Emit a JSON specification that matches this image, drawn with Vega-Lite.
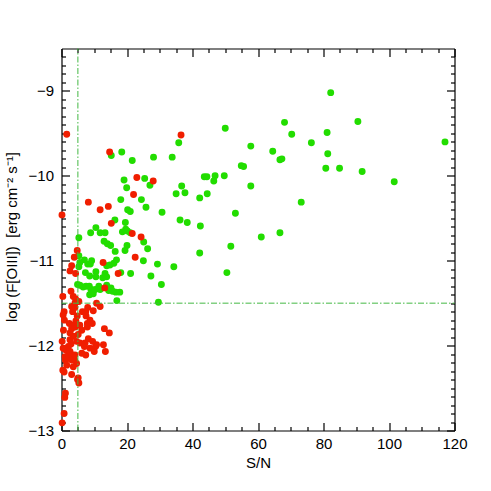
{
  "$schema": "https://vega.github.io/schema/vega-lite/v6.json",
  "width": 393,
  "height": 382,
  "autosize": "none",
  "padding": {"left": 61.5, "top": 48.5, "right": 36.5, "bottom": 60.5},
  "background": "white",
  "config": {
    "view": {"stroke": null},
    "font": "Liberation Sans",
    "axis": {
      "grid": false,
      "domainColor": "black",
      "domainWidth": 1.2,
      "tickColor": "black",
      "tickWidth": 1.2,
      "labelFont": "Liberation Sans",
      "labelFontSize": 15,
      "labelColor": "black",
      "titleFont": "Liberation Sans",
      "titleFontSize": 15,
      "titleFontWeight": "normal",
      "titleColor": "black"
    }
  },
  "datasets": {
    "green": [
      {"sn": 82.2, "f": -9.02}, {"sn": 90.5, "f": -9.36}, {"sn": 70.3, "f": -9.51}, {"sn": 81.1, "f": -9.49},
      {"sn": 76.3, "f": -9.61}, {"sn": 117.1, "f": -9.6}, {"sn": 81.3, "f": -9.74}, {"sn": 80.7, "f": -9.91},
      {"sn": 84.9, "f": -9.91}, {"sn": 91.8, "f": -9.95}, {"sn": 101.6, "f": -10.07}, {"sn": 73.2, "f": -10.31},
      {"sn": 35.8, "f": -9.61}, {"sn": 50.0, "f": -9.44}, {"sn": 68.1, "f": -9.37}, {"sn": 28.1, "f": -9.78},
      {"sn": 33.8, "f": -9.78}, {"sn": 57.8, "f": -9.65}, {"sn": 64.5, "f": -9.71}, {"sn": 66.7, "f": -9.81},
      {"sn": 67.3, "f": -9.8}, {"sn": 54.9, "f": -9.88}, {"sn": 55.6, "f": -9.89}, {"sn": 25.4, "f": -10.03},
      {"sn": 27.0, "f": -10.11}, {"sn": 43.6, "f": -10.01}, {"sn": 44.4, "f": -10.01}, {"sn": 46.9, "f": -10.0},
      {"sn": 46.5, "f": -10.06}, {"sn": 49.7, "f": -10.0}, {"sn": 57.8, "f": -10.12}, {"sn": 36.7, "f": -10.12},
      {"sn": 35.0, "f": -10.21}, {"sn": 37.7, "f": -10.2}, {"sn": 24.4, "f": -10.28}, {"sn": 42.2, "f": -10.26},
      {"sn": 44.5, "f": -10.21}, {"sn": 25.8, "f": -10.37}, {"sn": 30.7, "f": -10.43}, {"sn": 53.1, "f": -10.44},
      {"sn": 36.2, "f": -10.52}, {"sn": 38.4, "f": -10.55}, {"sn": 42.4, "f": -10.59}, {"sn": 25.1, "f": -10.78},
      {"sn": 26.3, "f": -10.86}, {"sn": 61.0, "f": -10.72}, {"sn": 66.7, "f": -10.67}, {"sn": 51.7, "f": -10.83},
      {"sn": 42.2, "f": -10.91}, {"sn": 25.0, "f": -11.0}, {"sn": 29.3, "f": -11.04}, {"sn": 34.3, "f": -11.07},
      {"sn": 50.5, "f": -11.14}, {"sn": 27.3, "f": -11.18}, {"sn": 30.5, "f": -11.28}, {"sn": 29.6, "f": -11.49},
      {"sn": 15.2, "f": -9.76}, {"sn": 18.4, "f": -9.72}, {"sn": 21.6, "f": -9.82}, {"sn": 19.1, "f": -10.05},
      {"sn": 19.9, "f": -10.14}, {"sn": 18.1, "f": -10.28}, {"sn": 20.2, "f": -10.4}, {"sn": 21.0, "f": -10.42},
      {"sn": 16.3, "f": -10.52}, {"sn": 19.5, "f": -10.55}, {"sn": 10.5, "f": -10.61}, {"sn": 8.9, "f": -10.67},
      {"sn": 11.8, "f": -10.67}, {"sn": 13.3, "f": -10.67}, {"sn": 19.6, "f": -10.63}, {"sn": 20.1, "f": -10.65},
      {"sn": 18.6, "f": -10.66}, {"sn": 21.0, "f": -10.67}, {"sn": 13.0, "f": -10.77}, {"sn": 14.0, "f": -10.8},
      {"sn": 15.0, "f": -10.82}, {"sn": 20.0, "f": -10.82}, {"sn": 16.4, "f": -10.89}, {"sn": 19.4, "f": -10.88},
      {"sn": 5.3, "f": -10.73}, {"sn": 5.3, "f": -10.94}, {"sn": 16.8, "f": -10.99}, {"sn": 16.0, "f": -11.03},
      {"sn": 14.8, "f": -11.05}, {"sn": 13.8, "f": -11.06}, {"sn": 7.0, "f": -10.99}, {"sn": 8.0, "f": -11.04},
      {"sn": 9.2, "f": -11.0}, {"sn": 8.8, "f": -11.04}, {"sn": 5.6, "f": -11.02}, {"sn": 7.3, "f": -11.14},
      {"sn": 8.6, "f": -11.18}, {"sn": 10.5, "f": -11.13}, {"sn": 10.5, "f": -11.19}, {"sn": 13.3, "f": -11.15},
      {"sn": 13.8, "f": -11.19}, {"sn": 12.6, "f": -11.2}, {"sn": 18.1, "f": -11.14}, {"sn": 21.1, "f": -11.15},
      {"sn": 5.3, "f": -11.07}, {"sn": 4.9, "f": -11.28}, {"sn": 5.6, "f": -11.29}, {"sn": 6.6, "f": -11.31},
      {"sn": 7.5, "f": -11.3}, {"sn": 8.5, "f": -11.3}, {"sn": 9.0, "f": -11.34}, {"sn": 8.6, "f": -11.4},
      {"sn": 9.7, "f": -11.39}, {"sn": 10.3, "f": -11.34}, {"sn": 11.4, "f": -11.3}, {"sn": 11.8, "f": -11.34},
      {"sn": 13.8, "f": -11.29}, {"sn": 14.4, "f": -11.35}, {"sn": 15.1, "f": -11.32}, {"sn": 15.6, "f": -11.36},
      {"sn": 16.6, "f": -11.37}, {"sn": 17.8, "f": -11.37}, {"sn": 16.9, "f": -11.47}
    ],
    "red": [
      {"sn": 1.6, "f": -9.51}, {"sn": 14.7, "f": -9.72}, {"sn": 36.5, "f": -9.52}, {"sn": 23.0, "f": -10.02},
      {"sn": 28.0, "f": -10.06}, {"sn": 22.0, "f": -10.22}, {"sn": 8.2, "f": -10.31}, {"sn": 11.8, "f": -10.4},
      {"sn": 14.3, "f": -10.36}, {"sn": 0.15, "f": -10.46}, {"sn": 15.2, "f": -10.56}, {"sn": 21.6, "f": -10.68},
      {"sn": 24.3, "f": -10.72}, {"sn": 4.8, "f": -10.88}, {"sn": 3.9, "f": -10.96}, {"sn": 22.5, "f": -10.96},
      {"sn": 12.7, "f": -11.02}, {"sn": 3.1, "f": -11.06}, {"sn": 4.3, "f": -11.15}, {"sn": 17.3, "f": -11.15},
      {"sn": 13.2, "f": -11.32},
      {"sn": 0.4, "f": -11.42}, {"sn": 2.9, "f": -11.36}, {"sn": 3.6, "f": -11.42}, {"sn": 4.3, "f": -11.45},
      {"sn": 5.3, "f": -11.48}, {"sn": 0.8, "f": -11.6}, {"sn": 0.9, "f": -11.7}, {"sn": 4.1, "f": -11.55},
      {"sn": 3.4, "f": -11.6}, {"sn": 4.8, "f": -11.65}, {"sn": 4.4, "f": -11.71}, {"sn": 6.4, "f": -11.6},
      {"sn": 7.5, "f": -11.65}, {"sn": 8.0, "f": -11.55}, {"sn": 9.7, "f": -11.59}, {"sn": 10.7, "f": -11.5},
      {"sn": 11.8, "f": -11.54}, {"sn": 7.9, "f": -11.74}, {"sn": 7.9, "f": -11.78}, {"sn": 8.7, "f": -11.7},
      {"sn": 9.4, "f": -11.74}, {"sn": 2.4, "f": -11.74}, {"sn": 3.4, "f": -11.76}, {"sn": 4.2, "f": -11.78},
      {"sn": 3.1, "f": -11.8}, {"sn": 5.6, "f": -11.76}, {"sn": 6.2, "f": -11.82}, {"sn": 13.1, "f": -11.8},
      {"sn": 14.6, "f": -11.85}, {"sn": 0.6, "f": -11.82}, {"sn": 0.2, "f": -11.95}, {"sn": 2.6, "f": -11.93},
      {"sn": 2.9, "f": -11.98}, {"sn": 2.1, "f": -12.01}, {"sn": 3.6, "f": -11.89}, {"sn": 4.6, "f": -11.95},
      {"sn": 5.6, "f": -11.97}, {"sn": 7.2, "f": -11.97}, {"sn": 8.2, "f": -11.92}, {"sn": 9.5, "f": -11.95},
      {"sn": 10.7, "f": -11.99}, {"sn": 8.7, "f": -12.03}, {"sn": 12.8, "f": -11.99}, {"sn": 13.4, "f": -12.07},
      {"sn": 7.4, "f": -12.11}, {"sn": 1.2, "f": -12.05}, {"sn": 2.1, "f": -12.11}, {"sn": 1.2, "f": -12.17},
      {"sn": 2.6, "f": -12.07}, {"sn": 3.3, "f": -12.11}, {"sn": 4.0, "f": -12.17}, {"sn": 4.6, "f": -12.21},
      {"sn": 3.6, "f": -12.25}, {"sn": 1.6, "f": -12.23}, {"sn": 0.4, "f": -12.29}, {"sn": 0.8, "f": -12.31},
      {"sn": 3.1, "f": -12.34}, {"sn": 4.9, "f": -12.4}, {"sn": 5.3, "f": -12.44}, {"sn": 1.2, "f": -12.56},
      {"sn": 1.0, "f": -12.61}, {"sn": 0.8, "f": -12.8}, {"sn": 0.2, "f": -12.91},
      {"sn": 0.5, "f": -11.64}, {"sn": 3.1, "f": -11.54}, {"sn": 4.1, "f": -11.5}, {"sn": 7.4, "f": -11.6},
      {"sn": 2.6, "f": -11.85}, {"sn": 5.1, "f": -11.87}, {"sn": 7.0, "f": -12.01}, {"sn": 10.4, "f": -12.01},
      {"sn": 10.0, "f": -12.07}, {"sn": 6.2, "f": -12.09}, {"sn": 0.5, "f": -12.03}, {"sn": 1.1, "f": -12.13},
      {"sn": 2.1, "f": -12.15}, {"sn": 3.1, "f": -12.17}, {"sn": 4.1, "f": -12.11}, {"sn": 5.1, "f": -12.38},
      {"sn": 2.6, "f": -11.12}
    ],
    "vline": [{"x": 5, "y1": -13, "y2": -8.5}],
    "hline": [{"y": -11.5, "x1": 0, "x2": 120}]
  },
  "layer": [
    {
      "data": {"name": "green"},
      "mark": {"type": "circle", "size": 48, "opacity": 1, "color": "#22dd00"},
      "encoding": {
        "x": {"field": "sn", "type": "quantitative",
              "scale": {"domain": [0, 120], "nice": false, "zero": false},
              "axis": {"orient": "bottom", "values": [0, 20, 40, 60, 80, 100, 120], "tickSize": -8,
                       "labelPadding": 14, "title": "S/N", "titlePadding": 4, "labelFlush": false}},
        "y": {"field": "f", "type": "quantitative",
              "scale": {"domain": [-13, -8.5], "nice": false, "zero": false},
              "axis": {"orient": "left", "values": [-13, -12, -11, -10, -9], "tickSize": -8,
                       "labelPadding": 16, "title": "log (F[OIII]) \u00a0[erg cm⁻² s⁻¹]", "titlePadding": 9,
                       "titleY": 188, "labelFlush": false}}
      }
    },
    {
      "data": {"name": "red"},
      "mark": {"type": "circle", "size": 48, "opacity": 1, "color": "#f01e00"},
      "encoding": {
        "x": {"field": "sn", "type": "quantitative",
              "axis": {"orient": "top", "values": [0, 20, 40, 60, 80, 100, 120], "tickSize": -8,
                       "labels": false, "title": null}},
        "y": {"field": "f", "type": "quantitative",
              "axis": {"orient": "right", "values": [-13, -12, -11, -10, -9], "tickSize": -8,
                       "labels": false, "title": null}}
      }
    },
    {
      "data": {"name": "vline"},
      "mark": {"type": "rule", "color": "#44b844", "strokeWidth": 1, "strokeDash": [6, 2, 1.5, 2]},
      "encoding": {
        "x": {"field": "x", "type": "quantitative",
              "axis": {"orient": "bottom", "domain": false, "labels": false, "title": null, "tickSize": -4,
                       "values": [5, 10, 15, 25, 30, 35, 45, 50, 55, 65, 70, 75, 85, 90, 95, 105, 110, 115]}},
        "y": {"field": "y1", "type": "quantitative",
              "axis": {"orient": "left", "domain": false, "labels": false, "title": null, "tickSize": -4,
                       "values": [-12.9, -12.8, -12.7, -12.6, -12.5, -12.4, -12.3, -12.2, -12.1,
                                  -11.9, -11.8, -11.7, -11.6, -11.5, -11.4, -11.3, -11.2, -11.1,
                                  -10.9, -10.8, -10.7, -10.6, -10.5, -10.4, -10.3, -10.2, -10.1,
                                  -9.9, -9.8, -9.7, -9.6, -9.5, -9.4, -9.3, -9.2, -9.1,
                                  -8.9, -8.8, -8.7, -8.6]}},
        "y2": {"field": "y2"}
      }
    },
    {
      "data": {"name": "hline"},
      "mark": {"type": "rule", "color": "#44b844", "strokeWidth": 1, "strokeDash": [6, 2, 1.5, 2]},
      "encoding": {
        "y": {"field": "y", "type": "quantitative",
              "axis": {"orient": "right", "domain": false, "labels": false, "title": null, "tickSize": -4,
                       "values": [-12.9, -12.8, -12.7, -12.6, -12.5, -12.4, -12.3, -12.2, -12.1,
                                  -11.9, -11.8, -11.7, -11.6, -11.5, -11.4, -11.3, -11.2, -11.1,
                                  -10.9, -10.8, -10.7, -10.6, -10.5, -10.4, -10.3, -10.2, -10.1,
                                  -9.9, -9.8, -9.7, -9.6, -9.5, -9.4, -9.3, -9.2, -9.1,
                                  -8.9, -8.8, -8.7, -8.6]}},
        "x": {"field": "x1", "type": "quantitative",
              "axis": {"orient": "top", "domain": false, "labels": false, "title": null, "tickSize": -4,
                       "values": [5, 10, 15, 25, 30, 35, 45, 50, 55, 65, 70, 75, 85, 90, 95, 105, 110, 115]}},
        "x2": {"field": "x2"}
      }
    }
  ],
  "resolve": {"axis": {"x": "independent", "y": "independent"}}
}
